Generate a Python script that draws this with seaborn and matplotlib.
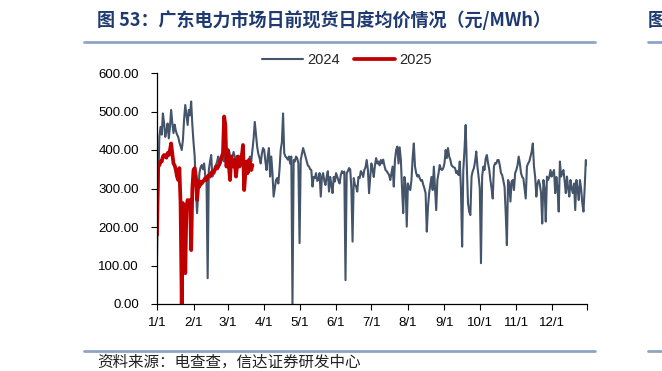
import pandas as pd
import matplotlib
matplotlib.use("Agg")
import matplotlib.pyplot as plt
from matplotlib.lines import Line2D
import seaborn as sns

# 2024 daily day-ahead average price (yuan/MWh), by month
jan_24 = [114, 300, 434, 460, 440, 495, 470, 434, 450, 469, 430, 460, 504, 470, 444, 466,
          450, 440, 434, 420, 410, 400, 426, 480, 517, 490, 465, 504, 490, 526, 465]
feb_24 = [420, 383, 300, 236, 290, 340, 355, 361, 350, 365, 331, 330, 67, 348, 370, 387,
          331, 340, 348, 360, 370, 383, 360, 365, 374, 385, 370, 392, 380]
mar_24 = [395, 400, 385, 375, 383, 395, 383, 370, 385, 374, 365, 380, 392, 370, 360, 350,
          348, 365, 375, 383, 370, 400, 430, 473, 440, 409, 390, 380, 365, 390, 405]
apr_24 = [400, 370, 348, 383, 405, 331, 383, 340, 279, 300, 322, 327, 313, 350, 400, 420,
          495, 392, 383, 380, 375, 383, 365, 383, 0, 374, 370, 383, 379, 365]
may_24 = [158, 374, 390, 405, 395, 383, 370, 360, 357, 350, 348, 305, 330, 327, 340, 320,
          322, 340, 279, 330, 340, 320, 309, 330, 345, 292, 330, 310, 288, 330, 318]
jun_24 = [340, 331, 320, 313, 335, 345, 340, 344, 62, 340, 345, 353, 350, 300, 162, 327,
          310, 305, 292, 330, 327, 345, 340, 330, 348, 355, 374, 350, 288, 330]
jul_24 = [365, 350, 330, 360, 379, 365, 370, 360, 374, 365, 375, 360, 348, 345, 340, 335,
          322, 340, 357, 305, 374, 400, 409, 365, 407, 374, 300, 236, 330, 309, 201]
aug_24 = [313, 300, 296, 322, 380, 417, 357, 340, 331, 335, 327, 320, 322, 310, 300, 288,
          188, 250, 288, 309, 330, 296, 357, 300, 244, 322, 340, 361, 350, 348, 353]
sep_24 = [365, 400, 379, 405, 383, 375, 360, 357, 355, 353, 340, 345, 335, 370, 300, 149,
          348, 400, 465, 357, 262, 240, 231, 331, 345, 353, 370, 396, 357, 330]
oct_24 = [300, 106, 331, 357, 348, 378, 387, 366, 350, 322, 300, 274, 357, 366, 365, 374,
          374, 360, 340, 335, 320, 305, 236, 153, 322, 313, 266, 318, 322, 296, 340]
nov_24 = [348, 360, 383, 365, 340, 330, 326, 300, 274, 357, 365, 370, 383, 395, 417, 357,
          330, 279, 313, 322, 310, 288, 209, 322, 300, 214, 331, 322, 330, 348]
dec_24 = [331, 340, 348, 288, 330, 300, 240, 370, 331, 340, 348, 320, 288, 331, 300, 279,
          322, 300, 288, 313, 244, 322, 300, 270, 322, 300, 262, 240, 300, 374, 361]

# 2025 so far
jan_25 = [179, 357, 361, 370, 370, 383, 387, 385, 380, 392, 387, 400, 417, 390, 365, 360,
          348, 331, 322, 353, 262, 0, 262, 200, 80, 253, 270, 262, 270, 140, 300]
feb_25 = [348, 353, 331, 270, 318, 305, 318, 313, 318, 322, 327, 322, 331, 335, 331, 340,
          344, 340, 348, 357, 352, 357, 365, 374, 383, 392, 487, 465]
mar_25 = [357, 400, 360, 322, 383, 370, 357, 374, 331, 360, 383, 357, 375, 383, 413, 296,
          340, 370, 340, 374, 365, 348, 361]

price_2024 = jan_24 + feb_24 + mar_24 + apr_24 + may_24 + jun_24 + jul_24 + aug_24 + sep_24 + oct_24 + nov_24 + dec_24
price_2025 = jan_25 + feb_25 + mar_25

month_labels = ["1/1", "2/1", "3/1", "4/1", "5/1", "6/1", "7/1", "8/1", "9/1", "10/1", "11/1", "12/1"]

# both years share one month/day axis
df24 = pd.DataFrame({"date": pd.date_range("2024-01-01", periods=len(price_2024)), "price": price_2024})
df25 = pd.DataFrame({"date": pd.date_range("2024-01-01", periods=len(price_2025)), "price": price_2025})

sns.set_theme(style="ticks")
plt.rcParams["font.family"] = ["Liberation Sans", "Noto Sans CJK SC", "DejaVu Sans"]

W, H = 662, 371
fig = plt.figure(figsize=(W / 100, H / 100), dpi=100)
ax = fig.add_axes([157 / W, 1 - 304 / H, 430 / W, 231 / H])

sns.lineplot(data=df24, x="date", y="price", color="#44546A", linewidth=1.5, label="2024", ax=ax)
sns.lineplot(data=df25, x="date", y="price", color="#C00000", linewidth=2.7, label="2025", ax=ax)

ax.set_ylim(0, 600)
ax.set_yticks(range(0, 601, 100))
ax.set_yticklabels([f"{v:.2f}" for v in range(0, 601, 100)])

ticks = list(pd.date_range("2024-01-01", "2024-12-01", freq="MS")) + [pd.Timestamp("2024-12-31")]
ax.set_xlim(pd.Timestamp("2024-01-01"), pd.Timestamp("2024-12-31"))
ax.set_xticks(ticks)
ax.set_xticklabels(month_labels + [""])

ax.set_xlabel("")
ax.set_ylabel("")
for s in ["top", "right"]:
    ax.spines[s].set_visible(False)
for s in ["left", "bottom"]:
    ax.spines[s].set_color("black")
    ax.spines[s].set_linewidth(0.9)
ax.tick_params(axis="both", direction="out", length=4, width=0.8, color="black", labelsize=9.5, labelcolor="black")
ax.tick_params(axis="y", pad=9)
ax.tick_params(axis="x", pad=5)

ax.legend(loc="center", bbox_to_anchor=(347 / W, 1 - 60 / H), bbox_transform=fig.transFigure,
          ncol=2, frameon=False, fontsize=10.5, handlelength=2.8, columnspacing=1.0, handletextpad=0.3)

# title, rules and source note
title_color = "#1F3A70"
rule_color = "#8EA4C8"
fig.text(97 / W, 1 - 20 / H, "图 53：广东电力市场日前现货日度均价情况（元/MWh）", fontsize=13,
         fontweight="bold", color=title_color, family=["Noto Sans CJK SC", "DejaVu Sans"], va="center", ha="left")
fig.text(648 / W, 1 - 20 / H, "图", fontsize=13, fontweight="bold", color=title_color,
         family=["Noto Sans CJK SC"], va="center", ha="left")
for y in (42, 351):
    fig.add_artist(Line2D([84 / W, 595 / W], [1 - y / H] * 2, color=rule_color, linewidth=2))
    fig.add_artist(Line2D([648 / W, 1], [1 - y / H] * 2, color=rule_color, linewidth=2))
fig.text(97 / W, 1 - 362 / H, "资料来源：电查查，信达证券研发中心", fontsize=11.2, color="#222222",
         family=["Noto Sans CJK SC", "DejaVu Sans"], va="center", ha="left")

fig.savefig("out.png", dpi=100)
